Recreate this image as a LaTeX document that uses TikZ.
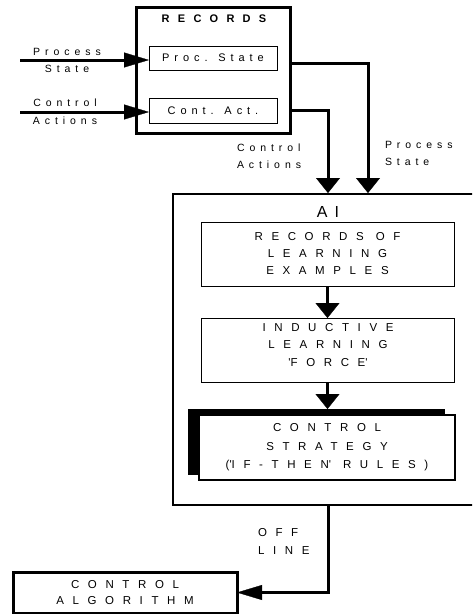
\documentclass[tikz,border=0pt]{standalone}
\usepackage{fontspec}
\setmainfont{Liberation Sans}
\newfontfamily\spA{Liberation Sans}[LetterSpace=47]
\newfontfamily\spB{Liberation Sans}[LetterSpace=75]
\newfontfamily\spC{Liberation Sans}[LetterSpace=45]
\usetikzlibrary{arrows.meta}
\tikzset{
  conn/.style={line width=3pt},
  harrow/.style={conn,-{Triangle[length=25pt,width=15pt,line width=0.3pt]}},
  varrow/.style={conn,-{Triangle[length=15pt,width=24pt,line width=0.3pt]}},
  thinbox/.style={draw,line width=0.9pt,outer sep=0pt,inner sep=0pt,align=center},
  thickbox/.style={draw,line width=3pt,outer sep=0pt,inner sep=0pt,align=center},
  lbl/.style={inner sep=0pt,outer sep=0pt,font=\spA\fontsize{10.5}{17}\selectfont},
  captext/.style={inner sep=0pt,outer sep=0pt,align=center,font=\spB\fontsize{11.5}{17.5}\selectfont},
}
\begin{document}
\begin{tikzpicture}[x=1pt,y=-1pt]
\path[use as bounding box,clip] (0,0) rectangle (472,614);
% RECORDS block
\node[thickbox,minimum width=154pt,minimum height=126pt] (records) at (213,70) {};
\node[inner sep=0pt,font=\spB\bfseries\fontsize{11}{12}\selectfont] (recl) at (214,19) {RECORDS};
\node[thinbox,minimum width=128pt,minimum height=24pt,font=\spC\fontsize{11}{12}\selectfont] (procstate) at (213,58) {Proc. State};
\node[thinbox,minimum width=128pt,minimum height=25pt,font=\spC\fontsize{11}{12}\selectfont] (contact) at (213,110.5) {Cont. Act.};
% inputs
\coordinate (psin) at (20,60);
\coordinate (cain) at (20,112);
\draw[harrow] (psin) -- (psin -| procstate.west);
\draw[harrow] (cain) -- (cain -| contact.west);
\node[lbl,align=center] (pslbl) at (67,60.5) {Process\\State};
\node[lbl,align=center] (calbl) at (65,112) {Control\\[1pt]Actions};
% AI block
\node[draw,line width=2.5pt,outer sep=0pt,minimum width=307pt,minimum height=311pt] (ai) at (326.5,349.5) {};
\node[inner sep=0pt,font=\spC\fontsize{16}{18}\selectfont] (ait) at (328,212) {AI};
\node[thinbox,minimum width=253pt,minimum height=64pt,font=\spB\fontsize{11.5}{17}\selectfont] (rle) at (327.5,254) {RECORDS\hspace{12pt}OF\\LEARNING\\EXAMPLES};
\node[thinbox,minimum width=253pt,minimum height=64pt] (ind) at (327.5,350) {};
\node[captext] (indt) at (328,345) {INDUCTIVE\\LEARNING\\\textquotesingle FORCE\textquotesingle};
\node[fill=black,draw=none,outer sep=0pt,minimum width=257pt,minimum height=66pt] (shd) at (316.5,442) {};
\node[thickbox,line width=2.6pt,fill=white,minimum width=256pt,minimum height=65pt,font=\spB\fontsize{11.5}{18.5}\selectfont] (cs) at (327,447.5) {CONTROL\\STRATEGY\\(\textquotesingle IF-THEN\textquotesingle\hspace{12pt}RULES)};
\draw[varrow] (rle.south) -- (ind.north);
\draw[varrow] (ind.south) -- (ind.south |- shd.north);
% outputs of records to AI
\coordinate (psx) at (368,193);
\coordinate (cax) at (328,193);
\draw[varrow] ([yshift=-5pt]procstate.east -| records.east) -| (psx);
\draw[varrow] (contact.east -| records.east) -| (cax);
\node[lbl,align=left,anchor=west] (calbl2) at (237,156.5) {Control\\Actions};
\node[lbl,align=left,anchor=west] (pslbl2) at (385,153.5) {Process\\State};
% off line
\node[thickbox,minimum width=224pt,minimum height=41pt,font=\spB\fontsize{11.5}{16}\selectfont] (ca) at (125,592.5) {CONTROL\\ALGORITHM};
\coordinate (offx) at (328,505);
\draw[harrow] (offx) |- (ca.east);
\node[lbl,align=left,anchor=west,font=\spB\fontsize{11.5}{18}\selectfont] (offl) at (258,541) {OFF\\LINE};
\end{tikzpicture}
\end{document}
